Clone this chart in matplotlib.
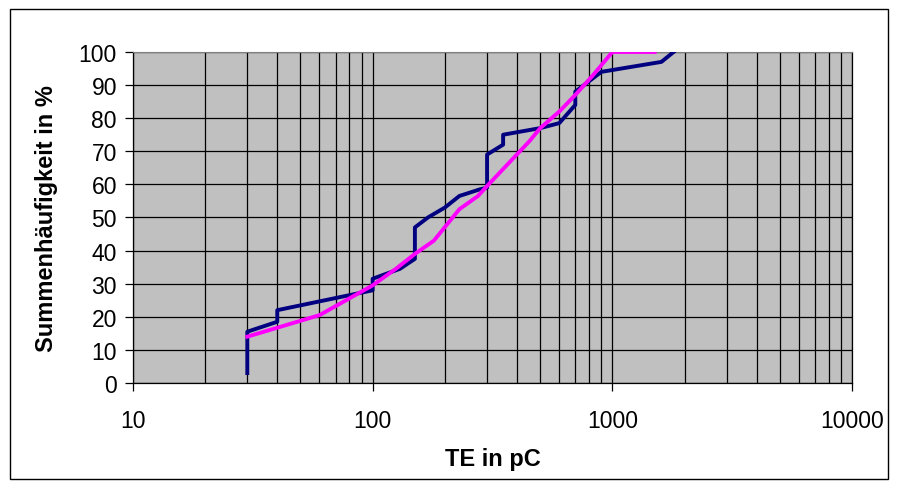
import numpy as np
import matplotlib.pyplot as plt
from matplotlib.patches import Rectangle
from matplotlib.ticker import LogLocator, FixedLocator, NullFormatter

plt.rcParams['font.family'] = ['Liberation Sans', 'DejaVu Sans']

# measured data (navy, step-like)
te_meas = [30, 30, 40, 40, 100, 100, 130, 150, 150, 170, 200, 230, 280, 300, 300,
           350, 350, 500, 600, 700, 700, 900, 1600, 1800]
cum_meas = [3, 15.5, 18.5, 22, 28, 31.5, 34.5, 37.5, 47, 50, 53, 56.5, 58.5, 59, 69,
            72, 75, 77, 78.5, 84, 88, 94, 97, 100]

# fitted curve (magenta)
te_fit = [30, 60, 100, 125, 150, 180, 230, 275, 300, 450, 500, 600, 700, 830, 1000, 1500]
cum_fit = [14, 20.5, 29.5, 34.5, 39, 43, 52.5, 56.5, 59.5, 73, 77, 82, 87, 93, 100, 100]

fig = plt.figure(figsize=(8.98, 4.89), dpi=100)
ax = fig.add_axes([0.148, 0.2147, 0.801, 0.677])
ax.set_facecolor('#C0C0C0')

ax.plot(te_meas, cum_meas, color='#000080', lw=2.8, zorder=3)
ax.plot(te_fit, cum_fit, color='#FF00FF', lw=2.8, zorder=4)

ax.set_xscale('log')
ax.set_xlim(10, 10000)
ax.set_ylim(0, 100)
ax.xaxis.set_major_locator(FixedLocator([10, 100, 1000, 10000]))
ax.xaxis.set_minor_locator(LogLocator(base=10, subs=np.arange(2, 10)))
ax.xaxis.set_minor_formatter(NullFormatter())
ax.set_xticklabels(['10', '100', '1000', '10000'])
ax.set_yticks(np.arange(0, 101, 10))

ax.grid(True, which='major', color='black', lw=0.9, zorder=1)
ax.grid(True, which='minor', axis='x', color='black', lw=0.9, zorder=1)
ax.set_axisbelow(True)

ax.tick_params(axis='both', which='major', direction='out', length=5.5, width=0.9,
               labelsize=16.5, colors='black')
ax.tick_params(axis='y', pad=6)
ax.tick_params(axis='x', pad=13)
ax.tick_params(axis='x', which='minor', length=0)

for s in ['left', 'bottom']:
    ax.spines[s].set_color('black')
    ax.spines[s].set_linewidth(0.9)
ax.spines['top'].set_color('#808080')
ax.spines['right'].set_color('black')
ax.spines['right'].set_linewidth(0.9)

ax.set_xlabel('TE in pC', fontsize=17, fontweight='bold')
ax.set_ylabel('Summenhäufigkeit in %', fontsize=17, fontweight='bold')
ax.xaxis.set_label_coords(0.5, (384 - 459) / 331)
ax.xaxis.label.set_va('center')
ax.yaxis.set_label_coords((47 - 133) / 719, 0.5)
ax.yaxis.label.set_va('center')

fig.patches.append(Rectangle((10 / 898, 9 / 489), 878 / 898, 470 / 489,
                             transform=fig.transFigure, fill=False,
                             edgecolor='black', lw=1))

fig.savefig('out.png', dpi=100)
